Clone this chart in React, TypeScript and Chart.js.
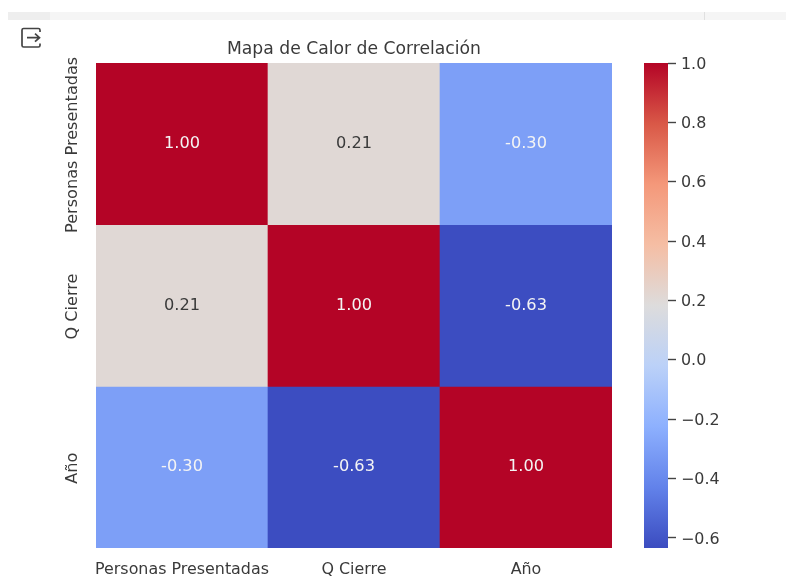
import React, { useEffect, useRef } from "react";
import { Chart, registerables } from "chart.js";

Chart.register(...registerables);

const variables = ["Personas Presentadas", "Q Cierre", "Año"];
const row1 = [1.0, 0.21, -0.3];
const row2 = [0.21, 1.0, -0.63];
const row3 = [-0.3, -0.63, 1.0];
const rows = [row1, row2, row3];
const colorbarTicks = [1.0, 0.8, 0.6, 0.4, 0.2, 0.0, -0.2, -0.4, -0.6];
const vMin = -0.634;
const vMax = 1.0;
const titleText = "Mapa de Calor de Correlación";

const coolwarm: [number, number, number][] = [
  [59, 76, 192], [98, 130, 234], [141, 176, 254], [187, 209, 248], [221, 220, 220],
  [245, 190, 164], [244, 152, 122], [217, 88, 71], [180, 4, 38],
];
const FONT = "'DejaVu Sans'";
const TEXT = "#3a3a3a";

function cmap(t: number) {
  const p = Math.max(0, Math.min(1, t)) * (coolwarm.length - 1);
  const i = Math.min(coolwarm.length - 2, Math.floor(p));
  const f = p - i;
  const c = coolwarm[i].map((a, k) => Math.round(a + (coolwarm[i + 1][k] - a) * f));
  return `rgb(${c[0]},${c[1]},${c[2]})`;
}
const colorOf = (v: number) => cmap((v - vMin) / (vMax - vMin));

const cellLabels = {
  id: "cellLabels",
  afterDatasetsDraw(chart: any) {
    const { ctx } = chart;
    ctx.save();
    ctx.font = `16.2px ${FONT}`;
    ctx.textAlign = "center";
    ctx.textBaseline = "middle";
    rows.forEach((row, r) => {
      const meta = chart.getDatasetMeta(r);
      row.forEach((v, c) => {
        const el = meta.data[c];
        const cy = (el.y + el.base) / 2;
        ctx.fillStyle = Math.abs(v - 0.21) < 0.01 ? TEXT : "#f4f4f4";
        ctx.fillText(v.toFixed(2), el.x, cy);
      });
    });
    ctx.restore();
  },
};

const yLabels = {
  id: "yLabels",
  afterDraw(chart: any) {
    const { ctx } = chart;
    const scale = chart.scales.y;
    ctx.save();
    ctx.font = `16.1px ${FONT}`;
    ctx.fillStyle = TEXT;
    ctx.textAlign = "center";
    ctx.textBaseline = "middle";
    variables.forEach((name, i) => {
      ctx.save();
      ctx.translate(72.5, scale.getPixelForValue(i + 0.5) + 1);
      ctx.rotate(-Math.PI / 2);
      ctx.fillText(name, 0, 0);
      ctx.restore();
    });
    ctx.restore();
  },
};

export default function App() {
  const mainRef = useRef<HTMLCanvasElement>(null);
  const barRef = useRef<HTMLCanvasElement>(null);

  useEffect(() => {
    document.body.style.margin = "0";
    document.body.style.background = "#fff";
    const main = new Chart(mainRef.current!, {
      type: "bar",
      data: {
        labels: variables,
        datasets: rows.map((row, r) => ({
          label: variables[r],
          data: row.map(() => 1),
          backgroundColor: row.map(colorOf),
          borderWidth: 0,
          barPercentage: 1,
          categoryPercentage: 1,
        })),
      },
      options: {
        animation: false,
        responsive: false,
        layout: { padding: { top: 39, right: 174, bottom: 0, left: 0 } },
        plugins: {
          legend: { display: false },
          tooltip: { enabled: false },
          title: {
            display: true,
            text: titleText,
            color: TEXT,
            fullSize: false,
            font: { family: FONT, size: 17.2, weight: "normal", lineHeight: 1.2 },
            padding: { top: 0, bottom: 3.4 },
          } as any,
        },
        scales: {
          x: {
            stacked: true,
            grid: { display: false },
            border: { display: false },
            ticks: { color: TEXT, font: { family: FONT, size: 15.9 }, padding: 4, maxRotation: 0, autoSkip: false },
            afterFit: (s: any) => { s.height = 40; },
          },
          y: {
            stacked: true,
            reverse: true,
            min: 0,
            max: 3,
            grid: { display: false },
            border: { display: false },
            ticks: { display: false },
            afterFit: (s: any) => { s.width = 96; },
          },
        },
      },
      plugins: [cellLabels, yLabels],
    } as any);

    const bar = new Chart(barRef.current!, {
      type: "bar",
      data: {
        labels: ["r"],
        datasets: [{
          label: "colorbar",
          data: [[vMin, vMax]],
          barPercentage: 1,
          categoryPercentage: 1,
          borderWidth: 0,
          backgroundColor: (c: any) => {
            const a = c.chart.chartArea;
            if (!a) return "#888";
            const g = c.chart.ctx.createLinearGradient(0, a.bottom, 0, a.top);
            coolwarm.forEach((col, i) => g.addColorStop(i / (coolwarm.length - 1), `rgb(${col.join(",")})`));
            return g;
          },
        }],
      },
      options: {
        animation: false,
        responsive: false,
        layout: { padding: { top: 63, bottom: 40, left: 8, right: 0 } },
        plugins: { legend: { display: false }, tooltip: { enabled: false } },
        scales: {
          x: { display: false },
          y: {
            position: "right",
            min: vMin,
            max: vMax,
            border: { display: false },
            grid: { drawOnChartArea: false, drawTicks: true, tickLength: 8, tickColor: "#444", tickWidth: 1.4 },
            ticks: {
              color: TEXT,
              padding: 5,
              font: { family: FONT, size: 15.9, lineHeight: 0.19 },
              callback: (v: any) => ["", (Number(v) < 0 ? "\u2212" : "") + Math.abs(Number(v)).toFixed(1)],
            },
            afterBuildTicks: (s: any) => { s.ticks = colorbarTicks.map((value) => ({ value })); },
            afterFit: (s: any) => { s.width = 118; },
          },
        },
      },
    } as any);

    return () => { main.destroy(); bar.destroy(); };
  }, []);

  const soft = "blur(0.4px)";
  return (
    <div style={{ position: "relative", width: 786, height: 588, background: "#fff", overflow: "hidden" }}>
      <div style={{ position: "absolute", left: 8, top: 12, width: 778, height: 8, background: "#f5f5f5" }} />
      <div style={{ position: "absolute", left: 8, top: 12, width: 42, height: 8, background: "#eeeeee" }} />
      <div style={{ position: "absolute", left: 704, top: 12, width: 1, height: 8, background: "#e0e0e0" }} />
      <canvas ref={mainRef} width={786} height={588} style={{ position: "absolute", left: 0, top: 0, filter: soft }} />
      <canvas ref={barRef} width={150} height={588} style={{ position: "absolute", left: 636, top: 0, filter: soft }} />
      <svg width={24} height={24} viewBox="0 0 24 24" style={{ position: "absolute", left: 19, top: 26, filter: soft }} fill="none" stroke="#444" strokeWidth={1.7}>
        <path d="M21 6 V4 A1.6 1.6 0 0 0 19.4 2.5 H4.6 A1.6 1.6 0 0 0 3 4 V19.5 A1.6 1.6 0 0 0 4.6 21 H19.4 A1.6 1.6 0 0 0 21 19.5 V17.5" />
        <path d="M8 11.7 H20 M16 7.7 L20.5 11.7 L16 15.7" />
      </svg>
    </div>
  );
}
